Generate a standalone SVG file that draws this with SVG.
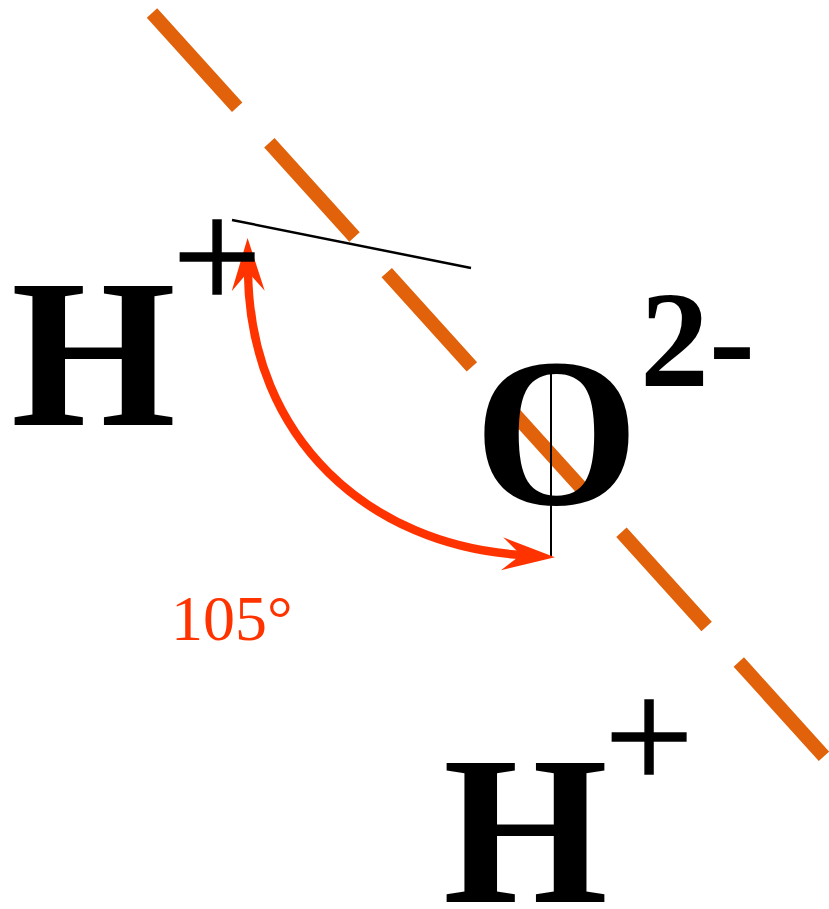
<svg xmlns="http://www.w3.org/2000/svg" width="829" height="909" viewBox="0 0 829 909">
<style>
.big{font-family:"Liberation Serif","Times New Roman",serif;font-weight:bold;fill:#000}
.sup{font-family:"Liberation Serif","Times New Roman",serif;font-weight:bold;fill:#000}
.plus{font-family:"Liberation Serif","Times New Roman",serif;fill:#000;stroke:#000;stroke-width:1.5}
.lbl{font-family:"Liberation Serif","Times New Roman",serif;fill:#FF3300}
.axis{stroke:#E1620B;stroke-width:14;stroke-dasharray:127 48;fill:none}
.thin{stroke:#000;fill:none}
.arc{stroke:#FF3300;stroke-width:8.5;fill:none}
</style>
<defs>
<marker id="ah" markerUnits="userSpaceOnUse" viewBox="0 -20 60 40" markerWidth="60" markerHeight="40" refX="19" refY="0" orient="auto-start-reverse">
<path d="M0,-16.5 L53,0 L0,16.5 L19,0 Z" fill="#FF3300"/>
</marker>
</defs>
<rect width="829" height="909" fill="#fff"/>
<g id="connectors">
<line class="axis" x1="152" y1="13" x2="840" y2="774"/>
<line class="thin" stroke-width="2.5" x1="232" y1="220" x2="471" y2="268"/>
<line class="thin" stroke-width="2" x1="551" y1="370" x2="551" y2="556"/>
<path class="arc" d="M248,272 C250,440 370,545 521,555" marker-start="url(#ah)" marker-end="url(#ah)"/>
</g>
<g id="H-top">
<text class="big" x="11" y="425" font-size="212">H</text>
<text class="plus" x="172.6" y="310" font-size="158">+</text>
</g>
<g id="O">
<text class="big" x="474" y="504" font-size="212">O</text>
<text class="sup" x="640" y="386" font-size="138">2-</text>
</g>
<g id="H-bottom">
<text class="big" x="443" y="902" font-size="212">H</text>
<text class="plus" x="604.6" y="790" font-size="158">+</text>
</g>
<g id="angle-label">
<text class="lbl" x="171" y="640" font-size="64">105°</text>
</g>
</svg>
